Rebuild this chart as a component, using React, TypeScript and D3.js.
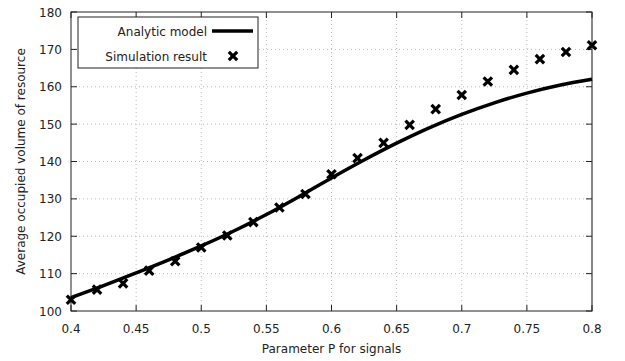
import { useEffect, useRef } from "react";
import * as d3 from "d3";

// analytic model curve
const modelP = [0.4, 0.425, 0.45, 0.475, 0.5, 0.525, 0.55, 0.575, 0.6, 0.625, 0.65, 0.675, 0.7, 0.725, 0.75, 0.775, 0.8];
const modelV = [103.6, 106.8, 110.2, 113.7, 117.4, 121.4, 125.8, 130.6, 135.6, 140.4, 144.9, 149.0, 152.6, 155.7, 158.3, 160.4, 162.0];

// simulation points
const simP = [0.4, 0.42, 0.44, 0.46, 0.48, 0.5, 0.52, 0.54, 0.56, 0.58, 0.6, 0.62, 0.64, 0.66, 0.68, 0.7, 0.72, 0.74, 0.76, 0.78, 0.8];
const simV = [103, 105.7, 107.4, 110.8, 113.3, 117, 120.2, 123.8, 127.7, 131.3, 136.6, 140.9, 145, 149.8, 154, 157.8, 161.4, 164.5, 167.4, 169.3, 171.1];

const xTicks = [0.4, 0.45, 0.5, 0.55, 0.6, 0.65, 0.7, 0.75, 0.8];
const yTicks = [100, 110, 120, 130, 140, 150, 160, 170, 180];

export default function App() {
    const svgRef = useRef<SVGSVGElement>(null);

    useEffect(() => {
        if (!svgRef.current) return;
        const W = 625, H = 361;
        const m = { top: 12, right: 33, bottom: 50, left: 71 };
        const width = W - m.left - m.right;
        const height = H - m.top - m.bottom;
        const font = "'DejaVu Sans', Verdana, sans-serif";

        const svg = d3.select(svgRef.current);
        svg.selectAll("*").remove();
        const g = svg.append("g").attr("transform", `translate(${m.left},${m.top})`);

        const x = d3.scaleLinear().domain([0.4, 0.8]).range([0, width]);
        const y = d3.scaleLinear().domain([100, 180]).range([height, 0]);

        // grid
        xTicks.slice(1, -1).forEach(t => {
            g.append("line").attr("x1", x(t)).attr("x2", x(t)).attr("y1", 0).attr("y2", height)
                .attr("stroke", "#bbb").attr("stroke-width", 1).attr("stroke-dasharray", "1,3");
        });
        yTicks.slice(1, -1).forEach(t => {
            g.append("line").attr("x1", 0).attr("x2", width).attr("y1", y(t)).attr("y2", y(t))
                .attr("stroke", "#bbb").attr("stroke-width", 1).attr("stroke-dasharray", "1,3");
        });

        // frame
        g.append("rect").attr("x", 0).attr("y", 0).attr("width", width).attr("height", height)
            .attr("fill", "none").attr("stroke", "#222").attr("stroke-width", 1);
        g.append("line").attr("x1", width).attr("x2", width).attr("y1", 0).attr("y2", height)
            .attr("stroke", "#888").attr("stroke-width", 2);

        // ticks (inward, mirrored)
        const tl = 6;
        xTicks.forEach(t => {
            g.append("line").attr("x1", x(t)).attr("x2", x(t)).attr("y1", height).attr("y2", height - tl).attr("stroke", "#222");
            g.append("line").attr("x1", x(t)).attr("x2", x(t)).attr("y1", 0).attr("y2", tl).attr("stroke", "#222");
            g.append("text").attr("x", x(t)).attr("y", height + 22).attr("text-anchor", "middle")
                .attr("font-family", font).attr("font-size", "12px").attr("fill", "#222")
                .text(String(t));
        });
        yTicks.forEach(t => {
            g.append("line").attr("x1", 0).attr("x2", tl).attr("y1", y(t)).attr("y2", y(t)).attr("stroke", "#222");
            g.append("line").attr("x1", width).attr("x2", width - tl).attr("y1", y(t)).attr("y2", y(t)).attr("stroke", "#222");
            g.append("text").attr("x", -9).attr("y", y(t) + 4.5).attr("text-anchor", "end")
                .attr("font-family", font).attr("font-size", "12px").attr("fill", "#222")
                .text(String(t));
        });

        // axis titles
        g.append("text").attr("x", width / 2).attr("y", height + 42).attr("text-anchor", "middle")
            .attr("font-family", font).attr("font-size", "12px").attr("fill", "#222")
            .text("Parameter P for signals");
        g.append("text").attr("transform", `translate(${-46},${height / 2}) rotate(-90)`).attr("text-anchor", "middle")
            .attr("font-family", font).attr("font-size", "12px").attr("fill", "#222")
            .text("Average occupied volume of resource");

        // model line
        const line = d3.line<number>()
            .x((_, i) => x(modelP[i]))
            .y(d => y(d))
            .curve(d3.curveMonotoneX);
        g.append("path").datum(modelV).attr("d", line)
            .attr("fill", "none").attr("stroke", "#000").attr("stroke-width", 3.5);

        // cross markers
        const cross = (cx: number, cy: number) => {
            const s = 4.2;
            g.append("path").attr("d", `M${cx - s},${cy - s}L${cx + s},${cy + s}M${cx - s},${cy + s}L${cx + s},${cy - s}`)
                .attr("stroke", "#000").attr("stroke-width", 3.2).attr("fill", "none");
        };
        simV.forEach((v, i) => cross(x(simP[i]), y(v)));

        // legend
        const lg = g.append("g").attr("transform", "translate(7,5)");
        lg.append("rect").attr("x", 0).attr("y", 0).attr("width", 180).attr("height", 51)
            .attr("fill", "#fff").attr("stroke", "#222").attr("stroke-width", 1);
        lg.append("text").attr("x", 129).attr("y", 18.5).attr("text-anchor", "end")
            .attr("font-family", font).attr("font-size", "12px").attr("fill", "#222").text("Analytic model");
        lg.append("line").attr("x1", 134).attr("x2", 175).attr("y1", 14).attr("y2", 14)
            .attr("stroke", "#000").attr("stroke-width", 3.5);
        lg.append("text").attr("x", 129).attr("y", 43.5).attr("text-anchor", "end")
            .attr("font-family", font).attr("font-size", "12px").attr("fill", "#222").text("Simulation result");
        const s = 4.2;
        lg.append("path").attr("d", `M${155 - s},${39 - s}L${155 + s},${39 + s}M${155 - s},${39 + s}L${155 + s},${39 - s}`)
            .attr("stroke", "#000").attr("stroke-width", 3.2).attr("fill", "none");
    }, []);

    return (
        <svg ref={svgRef} width={625} height={361} viewBox="0 0 625 361"
            style={{ position: "absolute", left: 0, top: 0, background: "#fff" }} />
    );
}
